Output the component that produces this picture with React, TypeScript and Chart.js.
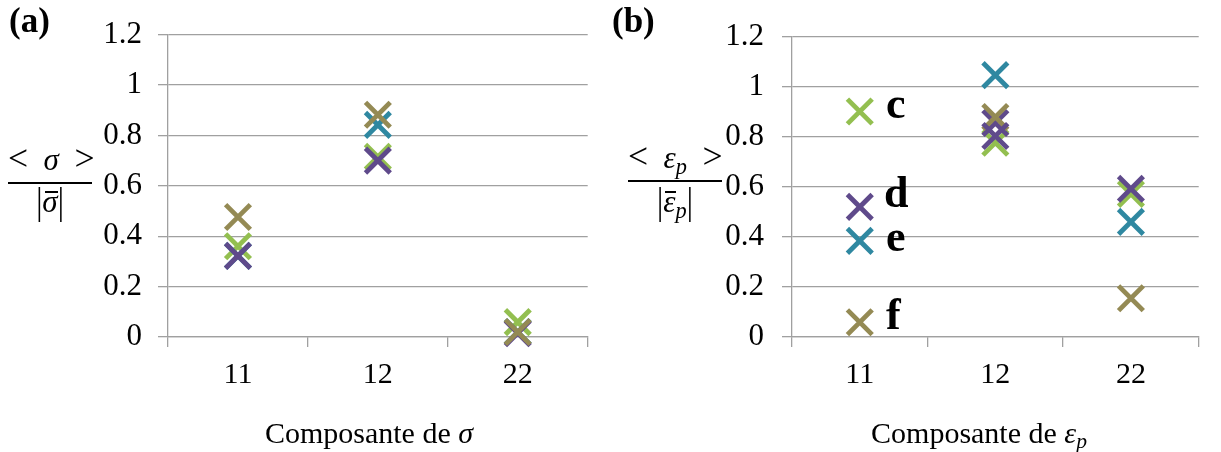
import React, { useEffect, useRef } from 'react';
import { Chart, registerables } from 'chart.js';

Chart.register(...registerables);

// ---------- data ----------
const categories = ['11', '12', '22'];
const yMin = 0;
const yMax = 1.2;
const yStep = 0.2;

// panel (a): <sigma>/|sigma_bar|
const sigmaGreen = [0.36, 0.715, 0.059];
const sigmaTeal = [0.322, 0.842, 0.02];
const sigmaPurple = [0.322, 0.7, 0.015];
const sigmaOlive = [0.476, 0.882, 0.02];

// panel (b): <eps_p>/|eps_p_bar|
const epsGreen = [0.901, 0.776, 0.572];
const epsTeal = [0.384, 1.046, 0.46];
const epsPurple = [0.52, 0.803, 0.592];
const epsPurpleBis = [null, 0.855, null];
const epsOlive = [0.059, 0.879, 0.155];

const seriesLabels = ['c', 'd', 'e', 'f'];

const GREEN = '#93bf50';
const TEAL = '#2f88a1';
const PURPLE = '#5f4a8b';
const OLIVE = '#948a54';
const GRID = '#a0a0a0';
const SERIF = '"Liberation Serif", "Times New Roman", serif';

type DS = { data: (number | null)[]; color: string };

function mkDataset(d: DS) {
  return {
    data: d.data,
    showLine: false,
    pointStyle: 'crossRot' as const,
    pointRadius: 17.5,
    pointHoverRadius: 17.5,
    pointBorderWidth: 4.8,
    borderColor: d.color,
    backgroundColor: d.color,
    pointBorderColor: d.color,
    clip: false as const,
  };
}

function Panel(props: { sets: DS[]; left: number; width: number; axisWidth: number; padRight: number; tickPad: number }) {
  const ref = useRef<HTMLCanvasElement | null>(null);
  useEffect(() => {
    if (!ref.current) return;
    const chart = new Chart(ref.current, {
      type: 'line',
      data: {
        labels: categories,
        datasets: props.sets.map(mkDataset),
      },
      options: {
        responsive: false,
        animation: false,
        events: [],
        layout: { padding: { left: 0, right: props.padRight, top: 32, bottom: 0 } },
        plugins: { legend: { display: false }, tooltip: { enabled: false } },
        scales: {
          x: {
            type: 'category',
            offset: true,
            grid: {
              display: true,
              drawOnChartArea: false,
              drawTicks: true,
              tickLength: 10,
              offset: true,
              color: GRID,
              lineWidth: 1.3,
            },
            border: { display: true, color: GRID, width: 1.3 },
            ticks: {
              color: '#000',
              padding: 10,
              font: { family: SERIF, size: 30 },
            },
            afterFit: (s: any) => {
              s.height = 115;
            },
          },
          y: {
            min: yMin,
            max: yMax,
            grid: { color: GRID, lineWidth: 1.3, tickLength: 10, drawTicks: true },
            border: { display: true, color: GRID, width: 1.3 },
            ticks: {
              stepSize: yStep,
              color: '#000',
              padding: props.tickPad,
              font: { family: SERIF, size: 31 },
              callback: (v: any) => String(Math.round(Number(v) * 10) / 10),
            },
            afterFit: (s: any) => {
              s.width = props.axisWidth;
            },
          },
        },
      },
    });
    return () => chart.destroy();
  }, []);
  return (
    <canvas
      ref={ref}
      width={props.width}
      height={452}
      style={{ position: 'absolute', left: props.left, top: 0, width: props.width, height: 452 }}
    />
  );
}

function Txt(props: {
  x: number;
  base: number;
  size: number;
  bold?: boolean;
  w?: number;
  align?: 'left' | 'center';
  children: React.ReactNode;
}) {
  const { x, base, size, bold, w, align, children } = props;
  return (
    <div
      style={{
        position: 'absolute',
        left: x,
        top: base - 0.8375 * size,
        width: w,
        textAlign: align || 'left',
        fontFamily: SERIF,
        fontSize: size,
        lineHeight: `${size}px`,
        fontWeight: bold ? 'bold' : 'normal',
        whiteSpace: 'nowrap',
        color: '#000',
      }}
    >
      {children}
    </div>
  );
}

const Bar = (p: { l: number; r: number; top: number }) => (
  <span style={{ position: 'absolute', left: p.l, right: p.r, top: p.top, height: 1.6, background: '#000' }} />
);

const Pipe = () => <span style={{ display: 'inline-block', transform: 'scaleY(1.2)' }}>|</span>;

export default function App() {
  const setsA: DS[] = [
    { data: sigmaOlive, color: OLIVE },
    { data: sigmaPurple, color: PURPLE },
    { data: sigmaTeal, color: TEAL },
    { data: sigmaGreen, color: GREEN },
  ];
  const setsB: DS[] = [
    { data: epsPurple, color: PURPLE },
    { data: epsOlive, color: OLIVE },
    { data: epsPurpleBis, color: PURPLE },
    { data: epsTeal, color: TEAL },
    { data: epsGreen, color: GREEN },
  ];
  const sub = (t: string) => (
    <span style={{ fontSize: '0.72em', fontStyle: 'italic', position: 'relative', top: '0.25em' }}>{t}</span>
  );
  const big = (t: string) => <span style={{ fontSize: '1.15em' }}>{t}</span>;
  return (
    <div style={{ position: 'absolute', left: 0, top: 0, width: 1221, height: 452, background: '#fff', overflow: 'hidden' }}>
      <Panel sets={setsA} left={0} width={610} axisWidth={168} padRight={13} tickPad={16} />
      <Panel sets={setsB} left={610} width={611} axisWidth={182} padRight={7} tickPad={18} />

      {/* panel tags */}
      <Txt x={9} base={32} size={35} bold>(a)</Txt>
      <Txt x={612} base={32} size={35} bold>(b)</Txt>

      {/* y titles (a) */}
      <Txt x={8} base={169} size={31} w={84} align="center">
        {big('<')}{'\u2002'}<i>σ</i>{'\u2002'}{big('>')}
      </Txt>
      <div style={{ position: 'absolute', left: 8, top: 182, width: 84, height: 1.6, background: '#000' }} />
      <Txt x={8} base={212} size={31} w={84} align="center">
        <Pipe />
        <span style={{ position: 'relative', display: 'inline-block' }}>
          <i>σ</i>
          <Bar l={3} r={0} top={5} />
        </span>
        <Pipe />
      </Txt>

      {/* y titles (b) */}
      <Txt x={628} base={167} size={31} w={94} align="center">
        {big('<')}{'\u2002'}<i>ε</i>{sub('p')}{'\u2002'}{big('>')}
      </Txt>
      <div style={{ position: 'absolute', left: 628, top: 180, width: 94, height: 1.6, background: '#000' }} />
      <Txt x={628} base={212} size={31} w={94} align="center">
        <Pipe />
        <span style={{ position: 'relative', display: 'inline-block' }}>
          <i>ε</i>
          <Bar l={2} r={0} top={5} />
        </span>
        {sub('p')}
        <Pipe />
      </Txt>

      {/* series labels */}
      <Txt x={886} base={119} size={44} bold>{seriesLabels[0]}</Txt>
      <Txt x={884} base={208} size={44} bold>{seriesLabels[1]}</Txt>
      <Txt x={886} base={252} size={44} bold>{seriesLabels[2]}</Txt>
      <Txt x={886} base={330} size={44} bold>{seriesLabels[3]}</Txt>

      {/* x titles */}
      <Txt x={219} base={443} size={30} w={300} align="center">
        Composante de <i>σ</i>
      </Txt>
      <Txt x={829} base={443} size={30} w={300} align="center">
        Composante de <i>ε</i>{sub('p')}
      </Txt>
    </div>
  );
}
